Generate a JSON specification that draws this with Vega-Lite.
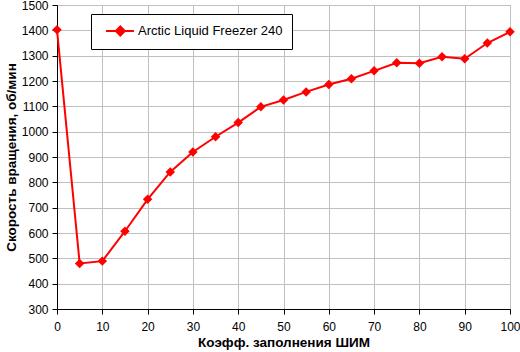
{
  "$schema": "https://vega.github.io/schema/vega-lite/v6.json",
  "width": 453,
  "height": 304,
  "autosize": "none",
  "padding": {"left": 57, "top": 5, "right": 10, "bottom": 43},
  "background": "white",
  "config": {
    "view": {"stroke": "#808080", "strokeWidth": 1},
    "font": "Liberation Sans"
  },
  "data": {
    "values": [
      {"pwm": 0, "rpm": 1402, "series": "Arctic Liquid Freezer 240"},
      {"pwm": 5, "rpm": 480, "series": "Arctic Liquid Freezer 240"},
      {"pwm": 10, "rpm": 489, "series": "Arctic Liquid Freezer 240"},
      {"pwm": 15, "rpm": 607, "series": "Arctic Liquid Freezer 240"},
      {"pwm": 20, "rpm": 733, "series": "Arctic Liquid Freezer 240"},
      {"pwm": 25, "rpm": 841, "series": "Arctic Liquid Freezer 240"},
      {"pwm": 30, "rpm": 920, "series": "Arctic Liquid Freezer 240"},
      {"pwm": 35, "rpm": 980, "series": "Arctic Liquid Freezer 240"},
      {"pwm": 40, "rpm": 1036, "series": "Arctic Liquid Freezer 240"},
      {"pwm": 45, "rpm": 1098, "series": "Arctic Liquid Freezer 240"},
      {"pwm": 50, "rpm": 1125, "series": "Arctic Liquid Freezer 240"},
      {"pwm": 55, "rpm": 1157, "series": "Arctic Liquid Freezer 240"},
      {"pwm": 60, "rpm": 1186, "series": "Arctic Liquid Freezer 240"},
      {"pwm": 65, "rpm": 1209, "series": "Arctic Liquid Freezer 240"},
      {"pwm": 70, "rpm": 1240, "series": "Arctic Liquid Freezer 240"},
      {"pwm": 75, "rpm": 1272, "series": "Arctic Liquid Freezer 240"},
      {"pwm": 80, "rpm": 1270, "series": "Arctic Liquid Freezer 240"},
      {"pwm": 85, "rpm": 1296, "series": "Arctic Liquid Freezer 240"},
      {"pwm": 90, "rpm": 1288, "series": "Arctic Liquid Freezer 240"},
      {"pwm": 95, "rpm": 1350, "series": "Arctic Liquid Freezer 240"},
      {"pwm": 100, "rpm": 1394, "series": "Arctic Liquid Freezer 240"}
    ]
  },
  "encoding": {
    "x": {
      "field": "pwm", "type": "quantitative",
      "scale": {"domain": [0, 100], "nice": false, "zero": false},
      "axis": {
        "title": "Коэфф. заполнения ШИМ",
        "values": [0, 10, 20, 30, 40, 50, 60, 70, 80, 90, 100],
        "grid": true, "gridColor": "#c0c0c0", "gridOpacity": 1, "gridWidth": 1,
        "domainColor": "black", "domainWidth": 1,
        "tickColor": "black", "tickSize": 5, "tickWidth": 1,
        "labelFont": "Liberation Sans", "labelFontSize": 12, "labelColor": "black", "labelPadding": 7,
        "labelFlush": false,
        "titleFont": "Liberation Sans", "titleFontSize": 13.5, "titleFontWeight": "bold", "titleColor": "black",
        "titlePadding": 3
      }
    },
    "y": {
      "field": "rpm", "type": "quantitative",
      "scale": {"domain": [300, 1500], "nice": false, "zero": false},
      "axis": {
        "title": "Скорость вращения, об/мин",
        "format": "d",
        "values": [300, 400, 500, 600, 700, 800, 900, 1000, 1100, 1200, 1300, 1400, 1500],
        "grid": true, "gridColor": "#c0c0c0", "gridOpacity": 1, "gridWidth": 1,
        "domainColor": "black", "domainWidth": 1,
        "tickColor": "black", "tickSize": 5, "tickWidth": 1,
        "labelFont": "Liberation Sans", "labelFontSize": 12, "labelColor": "black", "labelPadding": 4,
        "labelFlush": false,
        "titleFont": "Liberation Sans", "titleFontSize": 13.5, "titleFontWeight": "bold", "titleColor": "black",
        "titlePadding": 3
      }
    },
    "color": {
      "field": "series", "type": "nominal",
      "scale": {"range": ["#ff0000"]},
      "legend": {
        "orient": "none", "legendX": 34, "legendY": 9,
        "title": null,
        "strokeColor": "black", "fillColor": "white", "padding": 9,
        "labelFont": "Liberation Sans", "labelFontSize": 13, "labelColor": "black",
        "labelOffset": 22,
        "symbolType": "M-0.29,0H3.71M1.76,-0.64L2.4,0L1.76,0.64L1.12,0Z",
        "symbolSize": 196, "symbolStrokeWidth": 2,
        "symbolFillColor": "#ff0000", "symbolStrokeColor": "#ff0000",
        "encode": {"symbols": {"update": {"fill": {"value": "#ff0000"}, "stroke": {"value": "#ff0000"}, "opacity": {"value": 1}}}}
      }
    }
  },
  "layer": [
    {"mark": {"type": "line", "strokeWidth": 2}},
    {"mark": {"type": "point", "shape": "diamond", "filled": true, "size": 90, "opacity": 1}}
  ]
}
